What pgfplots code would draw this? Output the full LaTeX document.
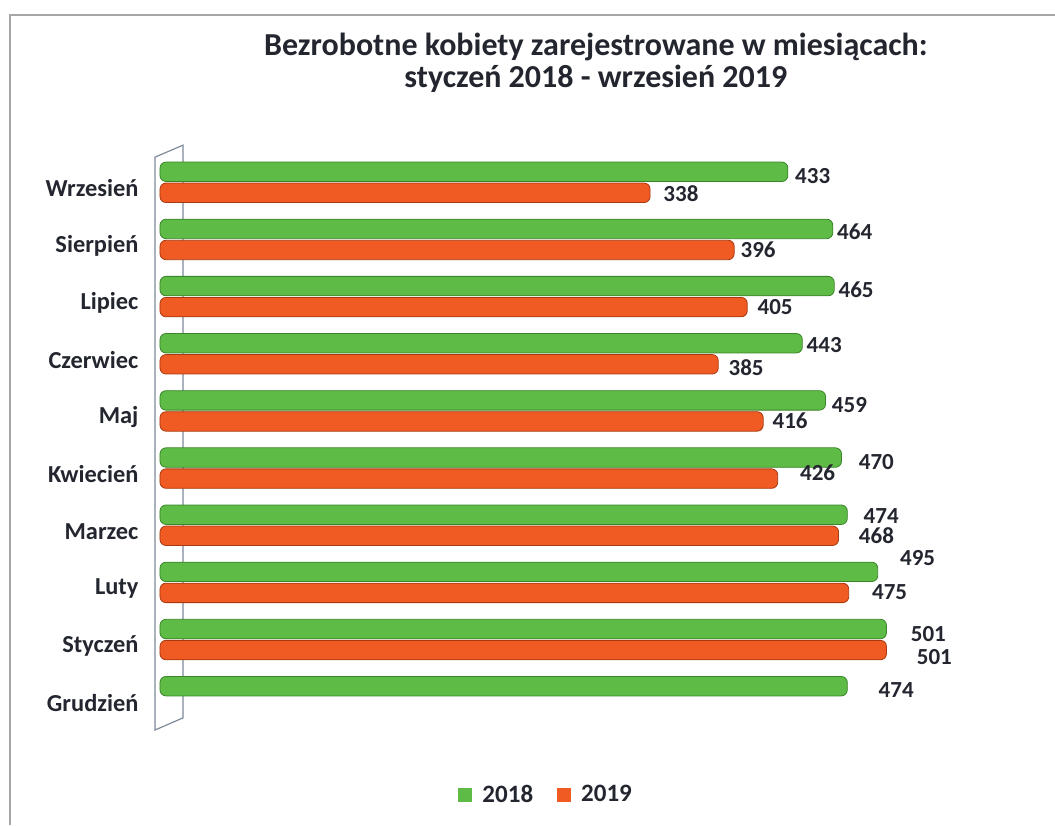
\documentclass[border=0pt]{standalone}
\usepackage{fontspec}
\setmainfont{Carlito}
\usepackage{pgfplots}
\usepackage{pgfplotstable}
\pgfplotsset{compat=1.18}

\definecolor{g18}{HTML}{5EBB46}
\definecolor{g18d}{HTML}{3A8429}
\definecolor{o19}{HTML}{F05A23}
\definecolor{o19d}{HTML}{A8390E}
\definecolor{txt}{HTML}{23262F}
\definecolor{wall}{HTML}{7D8B99}

% c = month index (0 = Grudzien ... 9 = Wrzesien), dx/dy = label offset in px
\pgfplotstableread{
c v dx dy
0 474 31 4
1 501 24 5
2 495 22 -14
3 474 16 1
4 470 17 4.5
5 459 6 5
6 443 4 2
7 465 4 4
8 464 4 3
9 433 7 4
}\dataA
\pgfplotstableread{
c v dx dy
1 501 30 7
2 475 23 -1
3 468 20 0
4 426 22 -5.5
5 416 9 -1
6 385 10 3
7 405 10 0
8 396 6 0
9 338 13 1
}\dataB

\pgfplotsset{lbl/.style={
    draw=none, mark=none, forget plot,
    nodes near coords, point meta=explicit,
    /pgf/number format/assume math mode=true,
    every node near coord/.append style={anchor=west, inner sep=0pt,
        font=\fontsize{11.5}{13}\selectfont\bfseries, text=txt}}}

\begin{document}
\begin{tikzpicture}
\begin{axis}[
    name=ax,
    scale only axis,
    width=413.25pt, height=291.5pt,
    xmin=-10, xmax=560,
    ymin=-0.6, ymax=9.6,
    bar width=0.34,
    hide x axis,
    y axis line style={draw=none},
    ytick={0,...,9},
    yticklabels={Grudzień, Styczeń, Luty, Marzec, Kwiecień, Maj, Czerwiec, Lipiec, Sierpień, Wrzesień},
    ytick style={draw=none},
    major tick length=0pt,
    yticklabel style={font=\fontsize{12.2}{14}\selectfont\bfseries, text=txt, yshift=-3pt},
    clip=false,
    title={Bezrobotne kobiety zarejestrowane w miesiącach:\\styczeń 2018 - wrzesień 2019},
    title style={at={(0.545,1.125)}, anchor=center, align=center,
        font=\fontsize{16}{16}\selectfont\bfseries, text=txt},
    legend columns=2,
    legend style={at={(0.486,-0.11)}, anchor=center, draw=none,
        font=\fontsize{12.5}{15}\selectfont\bfseries, text=txt,
        /tikz/every even column/.append style={column sep=10pt}},
]
\draw[wall, line width=0.6pt] (axis cs:-3.45,-0.583) -- (axis cs:-3.45,9.44)
    -- (axis cs:15.9,9.65) -- (axis cs:15.9,-0.37) -- cycle;
\addplot[xbar, draw=g18d, line width=0.4pt, fill=g18,
    bar shift=0.184, rounded corners=3pt,
    legend image code/.code={\path[draw=none, fill=none] (0pt,0pt) -- (10pt,0pt);
        \fill[g18, draw=none, sharp corners] (0pt,-3.5pt) rectangle (7pt,3.5pt);}]
    table[x=v, y=c] {\dataA};
\addplot[xbar, draw=o19d, line width=0.4pt, fill=o19,
    bar shift=-0.184, rounded corners=3pt,
    legend image code/.code={\path[draw=none, fill=none] (0pt,0pt) -- (10pt,0pt);
        \fill[o19, draw=none, sharp corners] (0pt,-3.5pt) rectangle (7pt,3.5pt);}]
    table[x=v, y=c] {\dataB};
\legend{2018, 2019}
% value labels
\addplot[lbl] table[x expr=\thisrow{v}+\thisrow{dx}/1.45,
    y expr=\thisrow{c}+0.184-\thisrow{dy}/57.16, meta=v] {\dataA};
\addplot[lbl] table[x expr=\thisrow{v}+\thisrow{dx}/1.45,
    y expr=\thisrow{c}-0.184-\thisrow{dy}/57.16, meta=v] {\dataB};
\end{axis}
\begin{scope}[shift={(ax.south west)}]
\draw[gray!70, line width=0.8pt] (-67.75pt,-47pt) -- (-67.75pt,358pt) -- (454.75pt,358pt);
\pgfresetboundingbox
\path[use as bounding box] (-72.75pt,-47pt) rectangle (454.75pt,365.5pt);
\end{scope}
\end{tikzpicture}
\end{document}
